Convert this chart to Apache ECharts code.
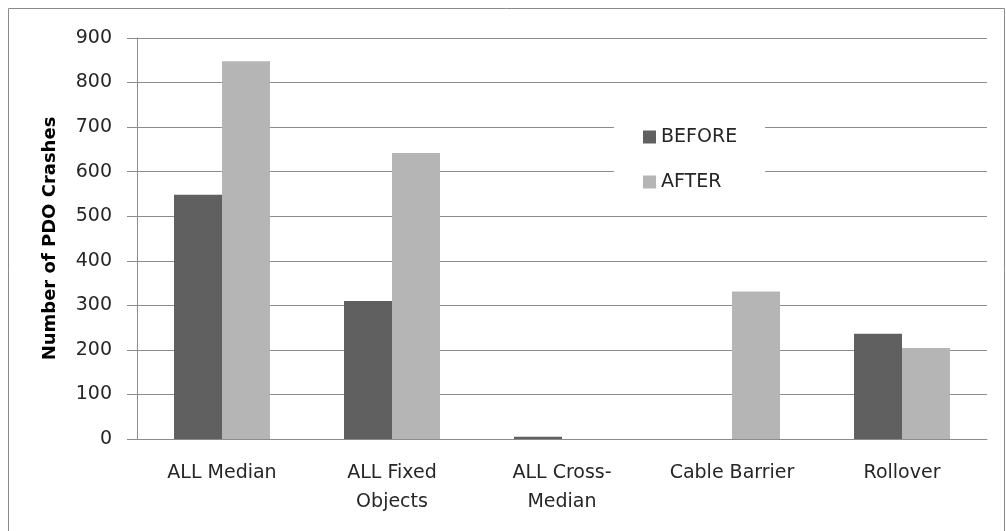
<!DOCTYPE html>
<html>
<head>
<meta charset="utf-8">
<script src="https://cdn.jsdelivr.net/npm/echarts@6/dist/echarts.min.js"></script>
<style>
html,body{margin:0;padding:0;background:#fff;}
#chart{width:1006px;height:531px;}
</style>
</head>
<body>
<div id="chart"></div>
<script>
const categories = ["ALL Median", "ALL Fixed\nObjects", "ALL Cross-\nMedian", "Cable Barrier", "Rollover"];
const beforeValues = [548, 310, 5, 0, 236];
const afterValues = [848, 642, 0, 331, 204];
const yTicks = { min: 0, max: 900, interval: 100 };
const seriesNames = ["BEFORE", "AFTER"];
const yTitle = "Number of PDO Crashes";

const font = "DejaVu Sans";
const chart = echarts.init(document.getElementById('chart'), null, { renderer: 'canvas' });
chart.setOption({
  animation: false,
  backgroundColor: '#ffffff',
  graphic: [{
    type: 'rect',
    shape: { x: 8.5, y: 8.5, width: 996, height: 560 },
    style: { fill: 'none', stroke: '#8a8a8a', lineWidth: 1 },
    silent: true, z: -1
  }],
  grid: { left: 137, top: 38, right: 19, bottom: 92 },
  legend: {
    orient: 'vertical',
    left: 614, top: 110,
    padding: [17, 28, 10, 29],
    backgroundColor: '#ffffff',
    itemGap: 25,
    itemWidth: 13, itemHeight: 13,
    icon: 'rect',
    textStyle: { fontFamily: font, fontSize: 19, color: '#262626', lineHeight: 20 },
    data: seriesNames,
    z: 10
  },
  xAxis: {
    type: 'category',
    data: categories,
    axisLine: { show: true, lineStyle: { color: '#8c8c8c', width: 1 } },
    axisTick: { show: false },
    axisLabel: { fontFamily: font, fontSize: 19, color: '#262626', margin: 20, lineHeight: 29, interval: 0 }
  },
  yAxis: {
    type: 'value',
    min: yTicks.min, max: yTicks.max, interval: yTicks.interval,
    name: yTitle,
    nameLocation: 'middle',
    nameGap: 78,
    nameRotate: 90,
    nameTextStyle: { fontFamily: font, fontSize: 18, fontWeight: 'bold', color: '#000' },
    axisLine: { show: true, lineStyle: { color: '#8c8c8c', width: 1 } },
    axisTick: { show: true, length: 10, lineStyle: { color: '#8c8c8c' } },
    axisLabel: { fontFamily: font, fontSize: 19, color: '#262626', margin: 25 },
    splitLine: { show: true, lineStyle: { color: '#8c8c8c', width: 1 } }
  },
  series: [
    { name: seriesNames[0], type: 'bar', data: beforeValues, barWidth: 48, barGap: '0%',
      itemStyle: { color: '#606060' } },
    { name: seriesNames[1], type: 'bar', data: afterValues, barWidth: 48, barGap: '0%',
      itemStyle: { color: '#b5b5b5' } }
  ]
});
</script>
</body>
</html>
